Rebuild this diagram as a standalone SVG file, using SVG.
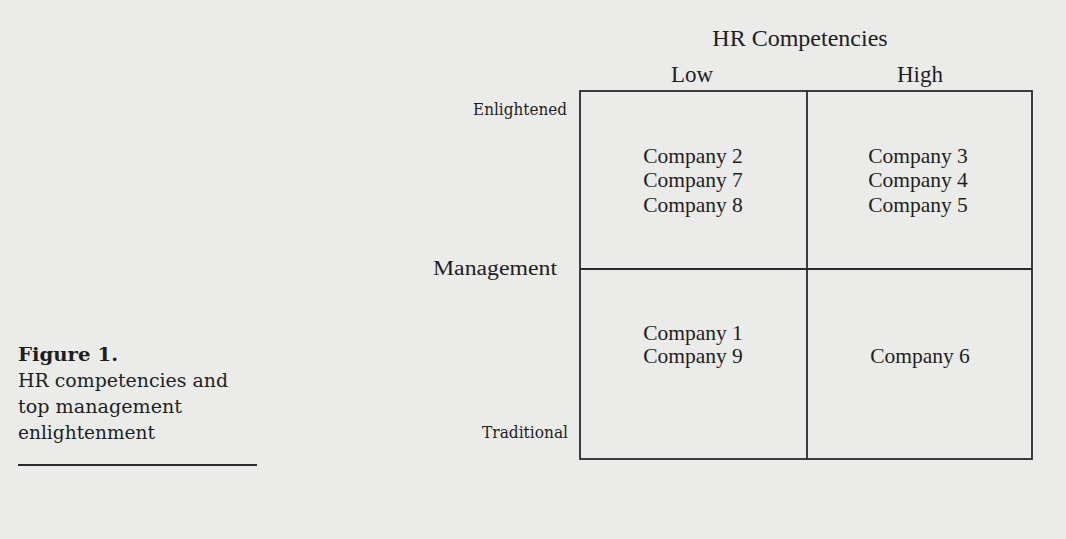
<svg xmlns="http://www.w3.org/2000/svg" width="1066" height="539" viewBox="0 0 1066 539">
<style>
text{font-family:"Liberation Serif","Times New Roman",serif;fill:#1e1e1e}
.c{font-size:21.5px;text-anchor:middle}
.ax{font-family:"DejaVu Serif",serif;font-size:17.5px;text-anchor:end}
.cap{font-family:"DejaVu Serif",serif;font-size:18.5px}
.g{stroke:#2a2a2a;stroke-width:1.8;fill:none}
</style>
<rect width="1066" height="539" fill="#ebebe9"/>
<g id="axes">
<text x="800" y="46" font-size="24" text-anchor="middle">HR Competencies</text>
<text x="692" y="82" font-size="23" text-anchor="middle">Low</text>
<text x="920" y="82" font-size="23" text-anchor="middle">High</text>
<text class="ax" x="567" y="115" textLength="94" lengthAdjust="spacingAndGlyphs">Enlightened</text>
<text x="557" y="275" font-family="DejaVu Serif, serif" font-size="20.5" text-anchor="end" textLength="124" lengthAdjust="spacingAndGlyphs">Management</text>
<text class="ax" x="568" y="438" textLength="86" lengthAdjust="spacingAndGlyphs">Traditional</text>
</g>
<g id="connectors">
<rect class="g" x="580" y="91" width="452" height="368"/>
<line class="g" x1="807" y1="91" x2="807" y2="459"/>
<line class="g" x1="580" y1="269" x2="1032" y2="269"/>
</g>
<g id="q-enlightened-low">
<text class="c" x="693" y="163">Company 2</text>
<text class="c" x="693" y="187">Company 7</text>
<text class="c" x="693" y="212">Company 8</text>
</g>
<g id="q-enlightened-high">
<text class="c" x="918" y="163">Company 3</text>
<text class="c" x="918" y="187">Company 4</text>
<text class="c" x="918" y="212">Company 5</text>
</g>
<g id="q-traditional-low">
<text class="c" x="693" y="340">Company 1</text>
<text class="c" x="693" y="363">Company 9</text>
</g>
<g id="q-traditional-high">
<text class="c" x="920" y="363">Company 6</text>
</g>
<g id="caption">
<text class="cap" x="18" y="361" font-weight="bold" textLength="100" lengthAdjust="spacingAndGlyphs">Figure 1.</text>
<text class="cap" x="18" y="387" textLength="210" lengthAdjust="spacingAndGlyphs">HR competencies and</text>
<text class="cap" x="18" y="413" textLength="164" lengthAdjust="spacingAndGlyphs">top management</text>
<text class="cap" x="18" y="439" textLength="137" lengthAdjust="spacingAndGlyphs">enlightenment</text>
<line x1="18" y1="465" x2="257" y2="465" stroke="#2a2a2a" stroke-width="2"/>
</g>
</svg>
